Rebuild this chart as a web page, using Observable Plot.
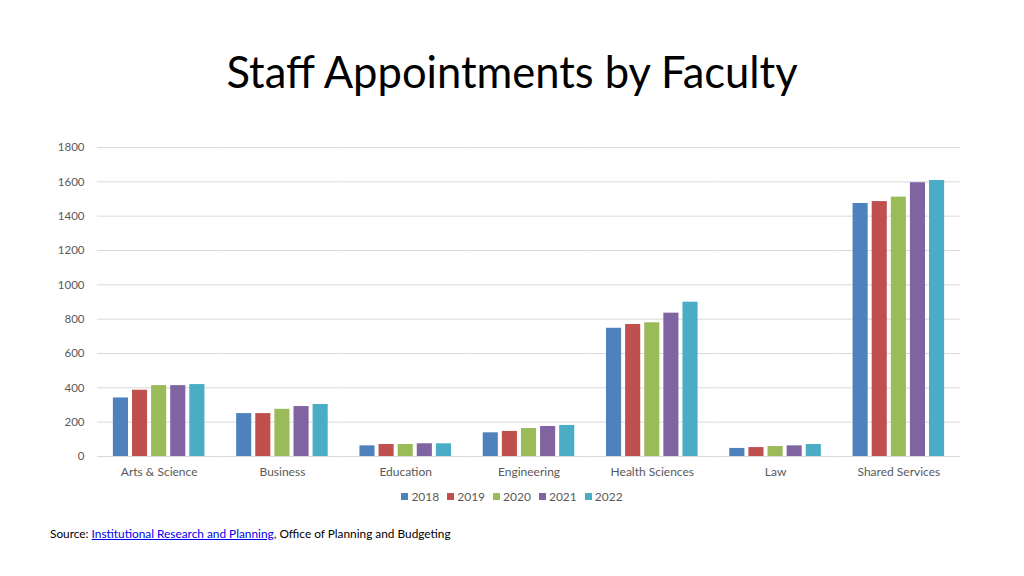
<!DOCTYPE html>
<html>
<head>
<meta charset="utf-8">
<script src="https://cdn.jsdelivr.net/npm/d3@7"></script>
<script src="https://cdn.jsdelivr.net/npm/@observablehq/plot@0.6"></script>
<style>
  html, body { margin: 0; padding: 0; background: #fff; width: 1024px; height: 576px; overflow: hidden; font-family: Lato, "Open Sans", sans-serif; }
  #title { position: absolute; top: 45px; left: 0; width: 1024px; text-align: center; font-size: 43.5px; color: #000; line-height: 52px; }
  #chart { position: absolute; top: 130px; left: 0; }
  #legend { position: absolute; top: 489px; left: 0; width: 1024px; display: flex; justify-content: center; gap: 8px; font-size: 12px; color: #595959; }
  #legend .item { display: flex; align-items: center; gap: 3px; }
  #legend .sw { width: 7px; height: 7px; display: inline-block; }
  #source { position: absolute; top: 526px; left: 50px; font-size: 11.85px; color: #000; }
  #source a { color: #0000ee; text-decoration: underline; }
</style>
</head>
<body>
<div id="title">Staff Appointments by Faculty</div>
<div id="chart"></div>
<div id="legend"></div>
<div id="source">Source: <a href="#">Institutional Research and Planning</a>, Office of Planning and Budgeting</div>
<script>
const faculties = ["Arts & Science", "Business", "Education", "Engineering", "Health Sciences", "Law", "Shared Services"];
const years = ["2018", "2019", "2020", "2021", "2022"];
const colors = ["#4f81bd", "#c0504d", "#9bbb59", "#8064a2", "#4bacc6"];
const v2018 = [341, 250, 62, 138, 747, 47, 1474];
const v2019 = [386, 250, 70, 146, 769, 52, 1485];
const v2020 = [413, 275, 70, 163, 779, 58, 1511];
const v2021 = [413, 291, 74, 175, 835, 62, 1595];
const v2022 = [419, 303, 74, 181, 899, 70, 1608];
const yTicks = [0, 200, 400, 600, 800, 1000, 1200, 1400, 1600, 1800];

const series = [v2018, v2019, v2020, v2021, v2022];
const data = [];
faculties.forEach((f, i) => {
  years.forEach((y, j) => data.push({faculty: f, year: y, value: series[j][i]}));
});

const chart = Plot.plot({
  width: 1024,
  height: 360,
  marginLeft: 97,
  marginRight: 64,
  marginTop: 17,
  marginBottom: 34,
  style: {fontFamily: "Lato, 'Open Sans', sans-serif", fontSize: "11.5px", color: "#595959", background: "transparent"},
  fx: {domain: faculties, padding: 0, round: false, label: null},
  x: {domain: years, paddingInner: 0.21, paddingOuter: 0.83, round: false, axis: null},
  y: {domain: [0, 1800], ticks: yTicks, label: null},
  color: {domain: years, range: colors},
  marks: [
    Plot.ruleY(yTicks, {stroke: "#d9d9d9", strokeWidth: 1}),
    Plot.axisY({ticks: yTicks, tickSize: 0, tickPadding: 13, tickFormat: d => String(d), label: null, fill: "#595959"}),
    Plot.axisFx({anchor: "bottom", tickSize: 0, tickPadding: 11, label: null, fill: "#595959", fontSize: "12px"}),
    Plot.barY(data, {fx: "faculty", x: "year", y: "value", fill: "year"})
  ]
});
document.getElementById("chart").appendChild(chart);

const legend = document.getElementById("legend");
years.forEach((y, j) => {
  const item = document.createElement("span");
  item.className = "item";
  item.innerHTML = `<span class="sw" style="background:${colors[j]}"></span>${y}`;
  legend.appendChild(item);
});
</script>
</body>
</html>
